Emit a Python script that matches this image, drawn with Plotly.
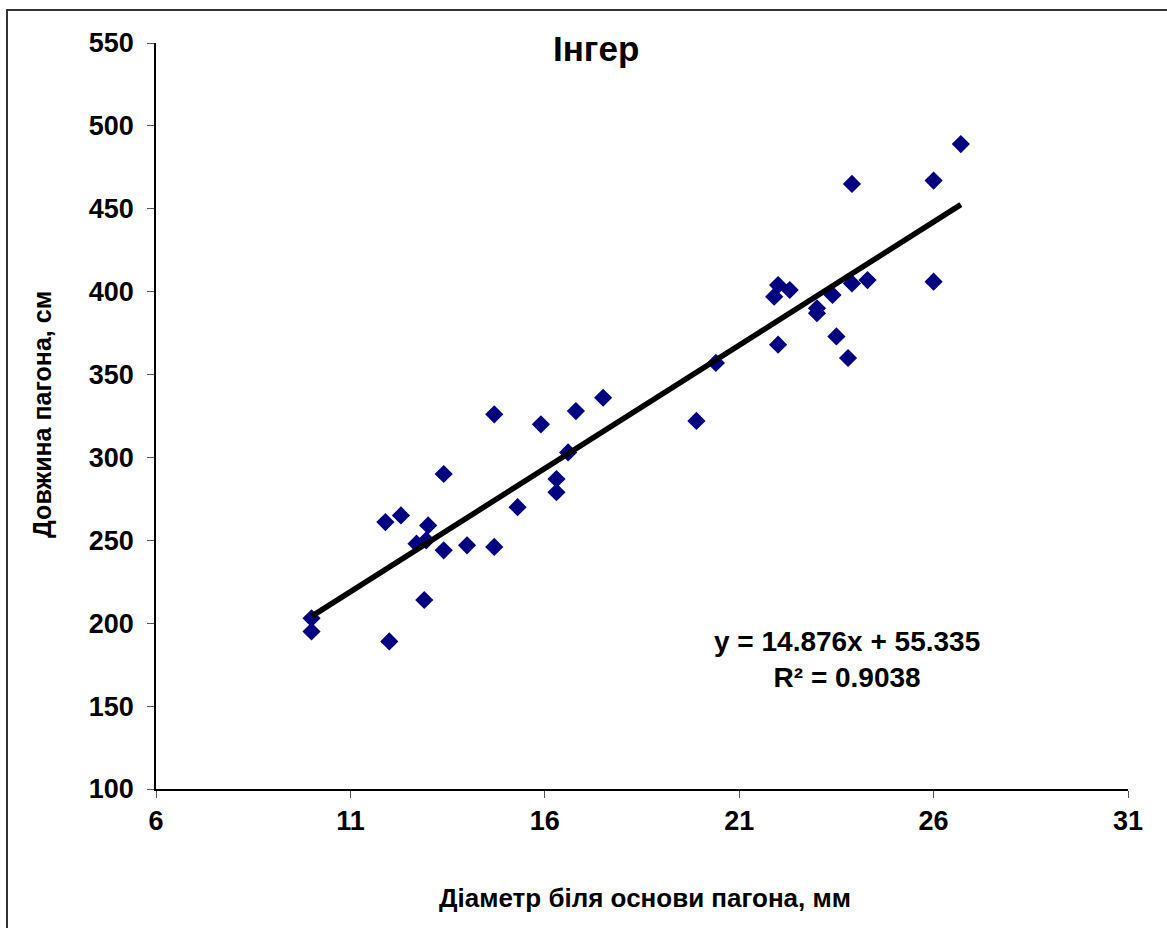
import numpy as np
import plotly.graph_objects as go

# Data
diameter_mm = [10.0, 10.0, 12.0, 11.9, 12.3, 12.7, 13.0, 12.95, 12.9, 13.4, 13.4, 14.0,
               14.7, 14.7, 15.3, 15.9, 16.3, 16.3, 16.6, 16.8, 17.5, 19.9, 20.4, 21.9,
               22.0, 22.0, 22.3, 23.0, 23.0, 23.4, 23.5, 23.8, 23.9, 23.9, 24.3, 26.0,
               26.0, 26.7]
length_cm = [203, 195, 189, 261, 265, 248, 259, 250, 214, 290, 244, 247,
             326, 246, 270, 320, 287, 279, 303, 328, 336, 322, 357, 397,
             404, 368, 401, 390, 387, 398, 373, 360, 405, 465, 407, 467,
             406, 489]

trend_slope = 14.876
trend_intercept = 55.335
r_squared = 0.9038

x_ticks = [6, 11, 16, 21, 26, 31]
y_ticks = [100, 150, 200, 250, 300, 350, 400, 450, 500, 550]

title_text = "Інгер"
x_title = "Діаметр біля основи пагона, мм"
y_title = "Довжина пагона, см"

FONT = "Liberation Sans, Arial, sans-serif"

x_line = np.array([min(diameter_mm), max(diameter_mm)])
y_line = trend_slope * x_line + trend_intercept

fig = go.Figure()
fig.add_trace(go.Scatter(
    x=diameter_mm, y=length_cm, mode="markers",
    marker=dict(symbol="diamond", size=14, color="#000080"),
    showlegend=False, hoverinfo="x+y"))
fig.add_trace(go.Scatter(
    x=x_line, y=y_line, mode="lines",
    line=dict(color="black", width=5.5),
    showlegend=False))

W, H = 1167, 928
L, R, T, B = 156, 39, 43, 139
pw, ph = W - L - R, H - T - B

def px_x(p):
    return (p - L) / pw

def px_y(p):
    return (H - B - p) / ph

fig.update_layout(
    width=W, height=H,
    margin=dict(l=L, r=R, t=T, b=B),
    paper_bgcolor="white", plot_bgcolor="white",
    font=dict(family=FONT, color="black"),
    xaxis=dict(range=[6, 31], tickvals=x_ticks, showgrid=False, zeroline=False,
               showline=True, linecolor="black", linewidth=1.5,
               ticks="outside", ticklen=7, tickcolor="#555", tickwidth=1,
               ticklabelstandoff=0,
               tickfont=dict(size=27, family=FONT, weight="bold")),
    yaxis=dict(range=[100, 550], tickvals=y_ticks, showgrid=False, zeroline=False,
               showline=True, linecolor="black", linewidth=1.5,
               ticks="outside", ticklen=7, tickcolor="#555", tickwidth=1,
               ticklabelstandoff=8,
               tickfont=dict(size=27, family=FONT, weight="bold")),
    annotations=[
        dict(text="<b>" + title_text + "</b>", xref="paper", yref="paper",
             x=px_x(596), y=px_y(48), showarrow=False,
             font=dict(size=35, family=FONT), xanchor="center", yanchor="middle"),
        dict(text="<b>y = %.3fx + %.3f<br>R² = %.4f</b>" % (trend_slope, trend_intercept, r_squared),
             xref="paper", yref="paper", x=px_x(847), y=px_y(659), showarrow=False,
             font=dict(size=28, family=FONT), xanchor="center", yanchor="middle",
             align="center"),
        dict(text="<b>" + x_title + "</b>", xref="paper", yref="paper",
             x=px_x(645), y=px_y(898), showarrow=False,
             font=dict(size=26, family=FONT), xanchor="center", yanchor="middle"),
        dict(text="<b>" + y_title + "</b>", xref="paper", yref="paper",
             x=px_x(42), y=px_y(415), showarrow=False, textangle=-90,
             font=dict(size=25, family=FONT), xanchor="center", yanchor="middle"),
    ],
    shapes=[
        dict(type="rect", xref="paper", yref="paper",
             x0=px_x(7), x1=px_x(1190), y0=px_y(960), y1=px_y(10),
             line=dict(color="#333", width=2), layer="below"),
    ],
)

fig.write_html("out.html")
